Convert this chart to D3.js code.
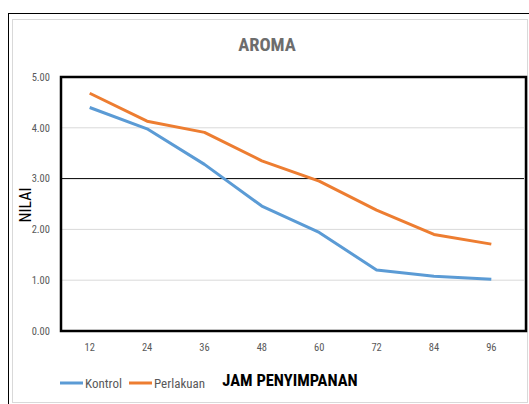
<!DOCTYPE html>
<html>
<head>
<meta charset="utf-8">
<script src="https://cdn.jsdelivr.net/npm/d3@7"></script>
<style>
  body { margin: 0; background: #fff; }
  svg { display: block; }
</style>
</head>
<body>
<div id="chart"></div>
<script>
"use strict";

// Data
const hours = ["12", "24", "36", "48", "60", "72", "84", "96"];
const kontrol = [4.40, 3.98, 3.28, 2.46, 1.94, 1.20, 1.08, 1.02];
const perlakuan = [4.68, 4.13, 3.91, 3.35, 2.95, 2.38, 1.90, 1.71];
const y_ticks = [0, 1, 2, 3, 4, 5];
const series_names = ["Kontrol", "Perlakuan"];
const series_colors = ["#5b9bd5", "#ed7d31"];

const width = 529, height = 404;
const FONT = "'Liberation Sans Narrow', 'Arial Narrow', 'Roboto Condensed', 'DejaVu Sans Condensed', sans-serif";

const margins = {top: 77, right: 9, bottom: 73, left: 61};
const plot_right = 520;

const svg = d3.select("#chart").append("svg")
    .attr("width", width)
    .attr("height", height);

// outer frames
svg.append("rect")
    .attr("x", 8.5).attr("y", 13.5)
    .attr("width", width).attr("height", height)
    .attr("fill", "none").attr("stroke", "#000").attr("stroke-width", 1);
svg.append("rect")
    .attr("x", 12.5).attr("y", 19.5)
    .attr("width", 515).attr("height", 383)
    .attr("fill", "none").attr("stroke", "#d9d9d9").attr("stroke-width", 1);

const x_scale = d3.scaleBand()
    .domain(hours)
    .range([margins.left, plot_right]);

const y_scale = d3.scaleLinear()
    .domain([0, 5])
    .range([331, 77]);

// light gridlines
svg.append("g")
    .selectAll("line")
    .data(y_ticks.filter(d => d !== 0 && d !== 5 && d !== 3))
    .join("line")
    .attr("x1", margins.left).attr("x2", 524)
    .attr("y1", d => y_scale(d)).attr("y2", d => y_scale(d))
    .attr("stroke", "#d9d9d9").attr("stroke-width", 1);

// reference line at 3.00
svg.append("line")
    .attr("x1", margins.left).attr("x2", 524)
    .attr("y1", y_scale(3)).attr("y2", y_scale(3))
    .attr("stroke", "#000").attr("stroke-width", 1);

// plot frame
svg.append("rect")
    .attr("x", margins.left).attr("y", y_scale(5))
    .attr("width", 526 - margins.left).attr("height", y_scale(0) - y_scale(5))
    .attr("fill", "none").attr("stroke", "#000").attr("stroke-width", 2.5);

// Y axis labels
const y_axis = d3.axisLeft(y_scale)
    .tickValues(y_ticks)
    .tickFormat(d3.format(".2f"))
    .tickSize(0)
    .tickPadding(11);
const gy = svg.append("g")
    .attr("transform", "translate(" + margins.left + ",0)")
    .call(y_axis);
gy.select(".domain").remove();
gy.selectAll("text")
    .attr("font-family", FONT).attr("font-size", 10.5).attr("fill", "#595959");

// X axis labels
const x_axis = d3.axisBottom(x_scale).tickSize(0).tickPadding(13);
const gx = svg.append("g")
    .attr("transform", "translate(0," + y_scale(0) + ")")
    .call(x_axis);
gx.select(".domain").remove();
gx.selectAll("text")
    .attr("font-family", FONT).attr("font-size", 10.5).attr("fill", "#595959");

// lines
const line = d3.line()
    .x((d, i) => x_scale(hours[i]) + x_scale.bandwidth() / 2)
    .y(d => y_scale(d));

[kontrol, perlakuan].forEach(function (values, i) {
    svg.append("path")
        .datum(values)
        .attr("d", line)
        .attr("fill", "none")
        .attr("stroke", series_colors[i])
        .attr("stroke-width", 3)
        .attr("stroke-linejoin", "round");
});

// title
svg.append("text")
    .attr("x", 267).attr("y", 51)
    .attr("text-anchor", "middle")
    .attr("font-family", FONT).attr("font-size", 18.5).attr("font-weight", "bold")
    .attr("fill", "#6d6d6d")
    .text("AROMA");

// y axis title
svg.append("text")
    .attr("transform", "translate(31,205) rotate(-90)")
    .attr("text-anchor", "middle")
    .attr("font-family", FONT).attr("font-size", 16)
    .attr("fill", "#000")
    .text("NILAI");

// x axis title
svg.append("text")
    .attr("x", 290).attr("y", 386)
    .attr("text-anchor", "middle")
    .attr("font-family", FONT).attr("font-size", 16.5).attr("font-weight", "bold")
    .attr("fill", "#000")
    .text("JAM PENYIMPANAN");

// legend
const legend_x = [60, 129];
series_names.forEach(function (name, i) {
    const g = svg.append("g").attr("transform", "translate(" + legend_x[i] + ",383)");
    g.append("line")
        .attr("x1", 0).attr("x2", 23).attr("y1", 0).attr("y2", 0)
        .attr("stroke", series_colors[i]).attr("stroke-width", 3);
    g.append("text")
        .attr("x", 25).attr("y", 4.5)
        .attr("font-family", FONT).attr("font-size", 13)
        .attr("fill", "#595959")
        .text(name);
});
</script>
</body>
</html>
